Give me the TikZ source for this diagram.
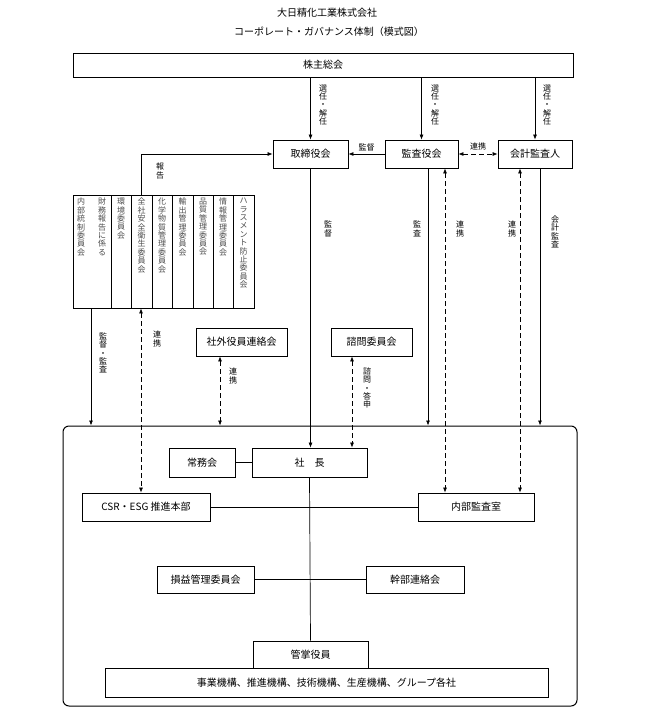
\documentclass[tikz,border=0pt]{standalone}
\usepackage{fontspec}
\setmainfont{Noto Sans CJK JP}
\usetikzlibrary{arrows.meta}
\makeatletter
\newcommand\vt[2][8.4pt]{\vbox{\baselineskip=#1\lineskiplimit=-\maxdimen\@tfor\vtch:=#2\do{\hbox to 1em{\hss\vtch\hss}}}}
\makeatother
\begin{document}
\begin{tikzpicture}[x=1pt,y=-1pt, font=\fontsize{10}{12}\selectfont,
 box/.style={draw, line width=0.8pt, minimum height=28pt, inner sep=0pt},
 arr/.style={-{Latex[length=5pt,width=4pt]}, line width=0.7pt},
 darr/.style={{Latex[length=5pt,width=4pt]}-{Latex[length=5pt,width=4pt]}, dash pattern=on 5pt off 3pt, line width=0.7pt},
 lab/.style={font=\fontsize{8}{9}\selectfont, inner sep=0pt},
 ctext/.style={font=\fontsize{8}{9}\selectfont, inner sep=0pt, text=black!70, anchor=north}]
\useasboundingbox (0,0) rectangle (648,709);
% title
\node (t1) at (327,13) {大日精化工業株式会社};
\node (t2) at (329,32) {コーポレート・ガバナンス体制（模式図）};
% top
\node[box, minimum width=500pt, minimum height=24pt] (sh) at (323,65) {株主総会};
\node[box, minimum width=75pt] (tb) at (310.5,154) {取締役会};
\node[box, minimum width=73pt] (ka) at (421.5,154) {監査役会};
\node[box, minimum width=74pt] (kk) at (535,154) {会計監査人};
% committees
\node[draw, line width=0.8pt, minimum width=181pt, minimum height=113pt, inner sep=0pt] (com) at (163.5,251.5) {};
\foreach \x in {111,131,152,172,193,213,233} \draw[line width=0.8pt] (\x,195) -- (\x,308);
\node[ctext] (c1a) at (102,198) {\vt{財務報告に係る}};
\node[ctext] (c1b) at (81,198) {\vt{内部統制委員会}};
\node[ctext] (c2t) at (121,198) {\vt{環境委員会}};
\node[ctext] (c3t) at (141.5,198) {\vt{全社安全衛生委員会}};
\node[ctext] (c4t) at (162,198) {\vt{化学物質管理委員会}};
\node[ctext] (c5t) at (182.5,198) {\vt{輸出管理委員会}};
\node[ctext] (c6t) at (203,198) {\vt{品質管理委員会}};
\node[ctext] (c7t) at (223,198) {\vt{情報管理委員会}};
\node[ctext] (c8t) at (243.5,198) {\vt{ハラスメント防止委員会}};
% middle
\node[box, minimum width=91pt] (gb) at (241.5,342) {社外役員連絡会};
\node[box, minimum width=81pt] (sm) at (371.5,342) {諮問委員会};
% executive block
\node[draw, line width=1pt, rounded corners=6pt, minimum width=514pt, minimum height=280pt] (exec) at (320,566) {};
\node[box, minimum width=66pt, minimum height=29pt] (jm) at (202,462.5) {常務会};
\node[box, minimum width=115pt, minimum height=29pt] (sc) at (309.5,462.5) {社　長};
\node[box, minimum width=128pt] (csr) at (146,507) {CSR・ESG 推進本部};
\node[box, minimum width=116pt] (nb) at (476,507) {内部監査室};
\node[box, minimum width=97pt, minimum height=27pt] (sn) at (205.5,579.5) {損益管理委員会};
\node[box, minimum width=98pt, minimum height=27pt] (kb) at (415,579.5) {幹部連絡会};
\node[box, minimum width=115pt, minimum height=27pt] (ks) at (310.5,654.5) {管掌役員};
\node[box, minimum width=443pt, minimum height=29pt] (jg) at (326.5,682.5) {事業機構、推進機構、技術機構、生産機構、グループ各社};
% arrows from shareholders
\draw[arr] (sh.south -| tb.north) -- (tb.north);
\draw[arr] (sh.south -| ka.north) -- (ka.north);
\draw[arr] (sh.south -| kk.north) -- (kk.north);
\node[lab] (l1) at (323,105) {\vt{選任・解任}};
\node[lab] (l2) at (435,105) {\vt{選任・解任}};
\node[lab] (l3) at (547,105) {\vt{選任・解任}};
% board level
\draw[arr] (ka.west) -- (tb.east) node[lab, midway, above=3pt] (lk) {監督};
\draw[darr] (ka.east) -- (kk.west) node[lab, midway, above=3pt] (lr) {連携};
\coordinate (rp) at (141,195);
\draw[arr] (rp) |- (tb.west);
\node[lab] (lrp) at (160,171) {\vt{報告}};
% downward
\draw[arr] (tb.south) -- (tb.south |- sc.north);
\node[lab] (l4) at (328,229) {\vt{監督}};
\coordinate (k1) at ([xshift=6.5pt]ka.south);
\draw[arr] (k1) -- (k1 |- exec.north);
\node[lab] (l5) at (417,229) {\vt{監査}};
\coordinate (k2) at ([xshift=23.5pt]ka.south);
\draw[darr] (k2) -- (k2 |- nb.north);
\node[lab] (l6) at (460,229) {\vt{連携}};
\coordinate (k3) at ([xshift=-15pt]kk.south);
\draw[darr] (k3) -- (k3 |- nb.north);
\node[lab] (l7) at (512,229) {\vt{連携}};
\coordinate (k4) at ([xshift=5pt]kk.south);
\draw[arr] (k4) -- (k4 |- exec.north);
\node[lab] (l8) at (555,232) {\vt{会計監査}};
% from committees
\coordinate (c1) at ([xshift=-72.5pt]com.south);
\draw[arr] (c1) -- (c1 |- exec.north);
\node[lab] (l9) at (103,353) {\vt{監督・監査}};
\coordinate (c2) at ([xshift=-22.5pt]com.south);
\draw[darr] (c2) -- (c2 |- csr.north);
\node[lab] (l10) at (157,339) {\vt{連携}};
\coordinate (g1) at ([xshift=-21.5pt]gb.south);
\draw[darr] (g1) -- (g1 |- exec.north);
\node[lab] (l11) at (233,376) {\vt{連携}};
\coordinate (s1) at ([xshift=-19.5pt]sm.south);
\draw[darr] (s1) -- (s1 |- sc.north);
\node[lab] (l12) at (367,388) {\vt{諮問・答申}};
% inner lines
\draw[line width=0.7pt] (jm.east) -- (sc.west);
\draw[line width=0.7pt] (sc.south) -- (ks.north);
\draw[line width=0.7pt] (csr.east) -- (nb.west);
\draw[line width=0.7pt] (sn.east) -- (kb.west);
\end{tikzpicture}
\end{document}
